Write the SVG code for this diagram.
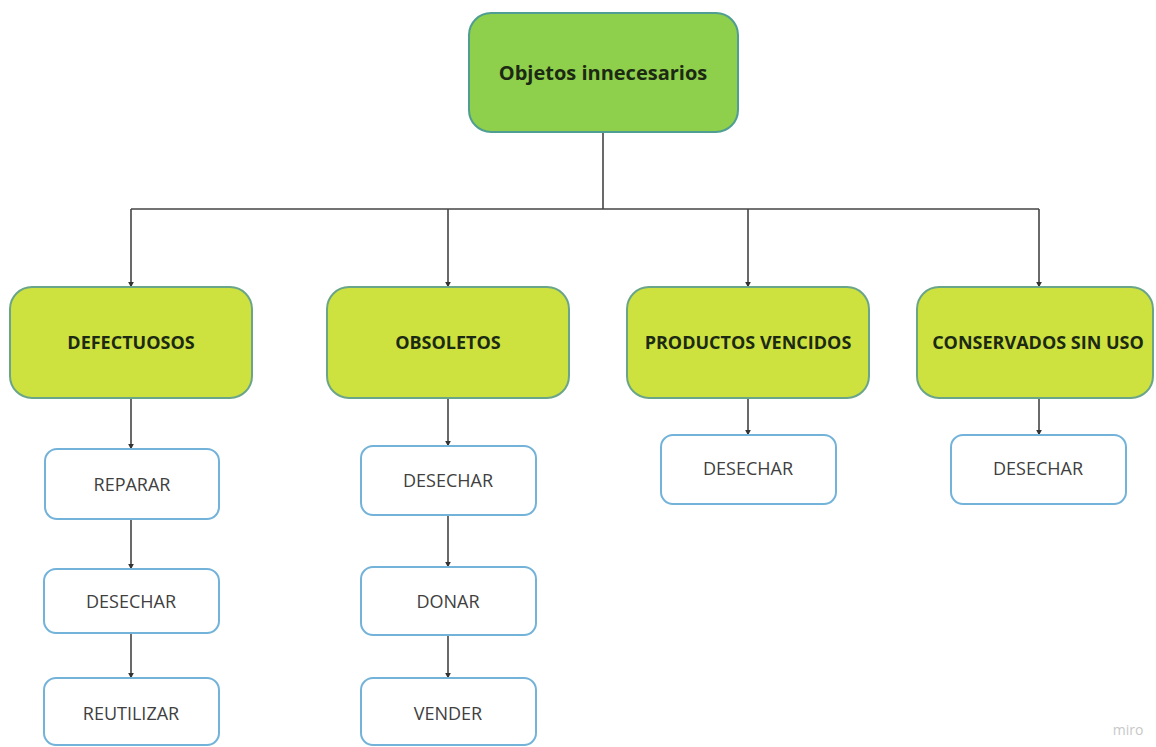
<svg xmlns="http://www.w3.org/2000/svg" width="1156" height="747" viewBox="0 0 1156 747">
<style>
.root{fill:#8ecf4b;stroke:#4f9d93;stroke-width:2}
.cat{fill:#cde23f;stroke:#6aa58a;stroke-width:2}
.leaf{fill:#ffffff;stroke:#73b3da;stroke-width:2}
.t{font-family:"Open Sans","Liberation Sans",sans-serif;text-anchor:middle;dominant-baseline:central}
.tb{font-weight:bold;fill:#1c2a14;font-size:18px}
.tl{fill:#404040;font-size:18px}
.conn{fill:none;stroke:#444;stroke-width:1.6}
</style>
<defs>
<marker id="arr" viewBox="0 0 10 10" refX="9" refY="5" markerWidth="6" markerHeight="6" markerUnits="userSpaceOnUse" orient="auto">
<path d="M0,0 L10,5 L0,10 z" fill="#333"/>
</marker>
</defs>
<rect width="1156" height="747" fill="#ffffff"/>
<g id="connectors">
<path class="conn" d="M603,132 V209"/>
<path class="conn" d="M131,209 H1039"/>
<path class="conn" d="M131,209 V287" marker-end="url(#arr)"/>
<path class="conn" d="M448,209 V287" marker-end="url(#arr)"/>
<path class="conn" d="M748,209 V287" marker-end="url(#arr)"/>
<path class="conn" d="M1039,209 V287" marker-end="url(#arr)"/>
<path class="conn" d="M131,398 V449" marker-end="url(#arr)"/>
<path class="conn" d="M131,519 V569" marker-end="url(#arr)"/>
<path class="conn" d="M131,633 V678" marker-end="url(#arr)"/>
<path class="conn" d="M448,398 V446" marker-end="url(#arr)"/>
<path class="conn" d="M448,515 V567" marker-end="url(#arr)"/>
<path class="conn" d="M448,635 V678" marker-end="url(#arr)"/>
<path class="conn" d="M748,398 V435" marker-end="url(#arr)"/>
<path class="conn" d="M1039,398 V435" marker-end="url(#arr)"/>
</g>
<g id="root">
<rect class="root" x="469" y="13" width="269" height="119" rx="22"/>
<text class="t tb" x="603" y="72" style="font-size:20px">Objetos innecesarios</text>
</g>
<g id="defectuosos">
<rect class="cat" x="10" y="287" width="242" height="111" rx="22"/>
<text class="t tb" x="131" y="342">DEFECTUOSOS</text>
</g>
<g id="obsoletos">
<rect class="cat" x="327" y="287" width="242" height="111" rx="22"/>
<text class="t tb" x="448" y="342">OBSOLETOS</text>
</g>
<g id="productos-vencidos">
<rect class="cat" x="627" y="287" width="242" height="111" rx="22"/>
<text class="t tb" x="748" y="342">PRODUCTOS VENCIDOS</text>
</g>
<g id="conservados-sin-uso">
<rect class="cat" x="917" y="287" width="236" height="111" rx="22"/>
<text class="t tb" x="1038" y="342">CONSERVADOS SIN USO</text>
</g>
<g id="def-reparar">
<rect class="leaf" x="45" y="449" width="174" height="70" rx="12"/>
<text class="t tl" x="132" y="484">REPARAR</text>
</g>
<g id="def-desechar">
<rect class="leaf" x="44" y="569" width="175" height="64" rx="12"/>
<text class="t tl" x="131" y="601">DESECHAR</text>
</g>
<g id="def-reutilizar">
<rect class="leaf" x="44" y="678" width="175" height="67" rx="12"/>
<text class="t tl" x="131" y="713">REUTILIZAR</text>
</g>
<g id="obs-desechar">
<rect class="leaf" x="361" y="446" width="175" height="69" rx="12"/>
<text class="t tl" x="448" y="480">DESECHAR</text>
</g>
<g id="obs-donar">
<rect class="leaf" x="361" y="567" width="175" height="68" rx="12"/>
<text class="t tl" x="448" y="601">DONAR</text>
</g>
<g id="obs-vender">
<rect class="leaf" x="361" y="678" width="175" height="67" rx="12"/>
<text class="t tl" x="448" y="713">VENDER</text>
</g>
<g id="pv-desechar">
<rect class="leaf" x="661" y="435" width="175" height="69" rx="12"/>
<text class="t tl" x="748" y="468">DESECHAR</text>
</g>
<g id="csu-desechar">
<rect class="leaf" x="951" y="435" width="175" height="69" rx="12"/>
<text class="t tl" x="1038" y="468">DESECHAR</text>
</g>
<text x="1128" y="735" style="font-family:'Open Sans','Liberation Sans',sans-serif;font-size:14px;fill:#c8c8c8;text-anchor:middle">miro</text>
</svg>
